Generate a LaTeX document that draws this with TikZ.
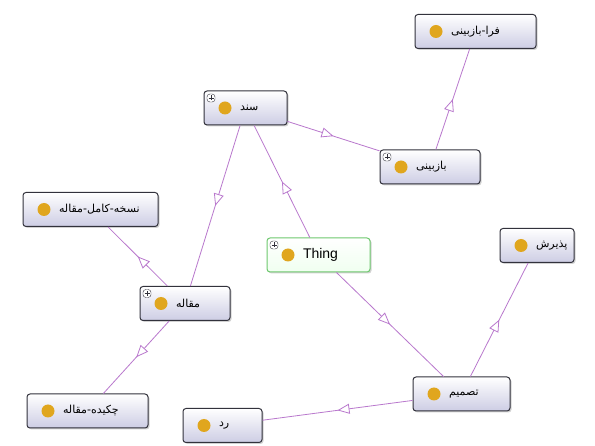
\documentclass[tikz,border=0pt]{standalone}
\usepackage{fontspec}
\setmainfont{Liberation Sans}
\newfontfamily\farsi[Script=Arabic]{DejaVu Sans}
\TeXXeTstate=1
\usepackage{tikz}
\usetikzlibrary{arrows.meta,decorations.markings,shadows}
\definecolor{edgec}{RGB}{185,120,205}
\definecolor{boxline}{RGB}{50,50,60}
\definecolor{boxfill}{RGB}{205,205,228}
\definecolor{dotc}{RGB}{224,166,30}
\definecolor{thingline}{RGB}{110,200,110}
\newcommand{\fa}[1]{\hspace*{36pt}\beginR #1\endR}
\newcommand{\dotpic}{\fill[dotc] ([xshift=21pt]path picture bounding box.west) circle (6.5pt);}
\newcommand{\pluspic}{\draw[boxline,fill=white,line width=0.4pt] ([shift={(3pt,-3pt)}]path picture bounding box.north west) rectangle ++(8pt,-8pt);
\draw[boxline,line width=0.9pt] ([shift={(7pt,-4.5pt)}]path picture bounding box.north west) -- ++(0pt,-5pt) ([shift={(4.5pt,-7pt)}]path picture bounding box.north west) -- ++(5pt,0pt);}
\tikzset{
  cls/.style={draw=boxline, line width=1pt, rounded corners=3pt, top color=white, bottom color=boxfill,
    drop shadow={shadow xshift=1.5pt, shadow yshift=-1.5pt, opacity=0.35},
    minimum height=34pt, inner xsep=0pt, inner ysep=0pt, text width=#1, align=left,
    font=\farsi\fontsize{11}{13}\selectfont, path picture={\dotpic}},
  clsplus/.style={cls=#1, path picture={\dotpic\pluspic}},
  thingbox/.style={cls=#1, draw=thingline, bottom color=green!6, font=\fontsize{14}{16}\selectfont, path picture={\dotpic\pluspic}},
  isa/.style={draw=edgec, line width=0.8pt, postaction={decorate},
    decoration={markings, mark=at position 0.5 with {\arrow{Triangle[length=12pt,width=10pt,fill=white]}}}}
}
\begin{document}
\begin{tikzpicture}[x=1pt,y=-1pt]
\useasboundingbox[fill=white] (0,0) rectangle (595,446);
\node[cls=121pt] (farabazbini) at (475.5,31.5) {\fa{فرا-بازبینی}};
\node[clsplus=83pt] (sanad) at (245.5,108) {\fa{سند}};
\node[clsplus=100pt] (bazbini) at (430,167) {\fa{بازبینی}};
\node[cls=135pt] (noskhe) at (90.5,209.5) {\fa{نسخه-کامل-مقاله}};
\node[thingbox=103pt] (thing) at (318.5,255) {\hspace*{36pt}Thing};
\node[cls=74pt] (paziresh) at (537,245.5) {\fa{پذیرش}};
\node[clsplus=90pt] (maghale) at (185,303.5) {\fa{مقاله}};
\node[cls=121pt] (chekide) at (87.5,411) {\fa{چکیده-مقاله}};
\node[cls=97pt] (tasmim) at (461.5,394) {\fa{تصمیم}};
\node[cls=79pt] (radd) at (222.5,425.5) {\fa{رد}};
\draw[isa] (thing) -- (sanad);
\draw[isa] (thing) -- (tasmim);
\draw[isa] (sanad) -- (bazbini);
\draw[isa] (bazbini) -- (farabazbini);
\draw[isa] (sanad) -- (maghale);
\draw[isa] (maghale) -- (noskhe);
\draw[isa] (maghale) -- (chekide);
\draw[isa] (tasmim) -- (paziresh);
\draw[isa] (tasmim) -- (radd);
\end{tikzpicture}
\end{document}
